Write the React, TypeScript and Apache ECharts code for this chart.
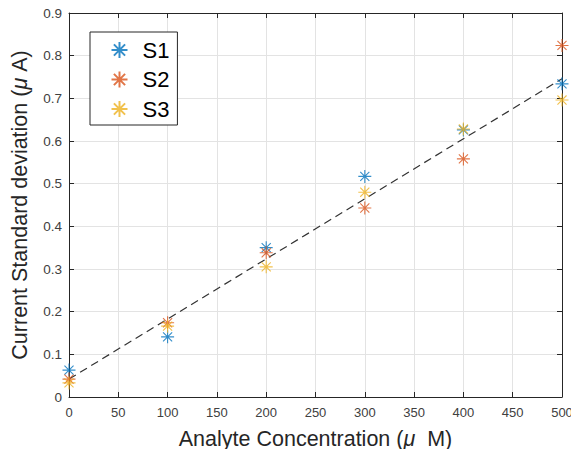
import React, { useEffect, useRef } from "react";
import * as echarts from "echarts";

const concentrations = [0, 100, 200, 300, 400, 500];
const s1 = [0.063, 0.141, 0.350, 0.517, 0.626, 0.734];
const s2 = [0.042, 0.174, 0.338, 0.443, 0.558, 0.824];
const s3 = [0.033, 0.166, 0.305, 0.480, 0.628, 0.696];
const fitX = [0, 500];
const fitY = [0.042, 0.746];
const seriesNames = ["S1", "S2", "S3"];
const colors = ["#0072BD", "#D95319", "#EDB120"];

const STAR = "path://M0,-1L0,1M-1,0L1,0M-0.7,-0.7L0.7,0.7M-0.7,0.7L0.7,-0.7";
const FONT = "'Liberation Sans', Arial, Helvetica, sans-serif";

export default function App() {
  const ref = useRef<HTMLDivElement>(null);
  useEffect(() => {
    if (!ref.current) return;
    const chart = echarts.init(ref.current, null, { renderer: "svg" });
    const all = [s1, s2, s3];
    const scatter = all.map((vals, i) => ({
      name: seriesNames[i],
      type: "scatter",
      symbol: STAR,
      symbolSize: 13,
      data: concentrations.map((c, j) => [c, vals[j]]),
      itemStyle: { color: "none", borderColor: colors[i], borderWidth: 1.1 },
      z: 3,
    }));
    const nameStyle = {
      fontSize: 21.5,
      lineHeight: 24,
      color: "#262626",
      fontFamily: FONT,
      rich: { mu: { fontSize: 21.5, lineHeight: 24, fontStyle: "italic", color: "#262626", fontFamily: FONT } },
    };
    chart.setOption({
      animation: false,
      textStyle: { fontFamily: FONT },
      grid: { left: 69, right: 17, top: 13, bottom: 60, show: false },
      legend: {
        orient: "vertical",
        left: 90,
        top: 32,
        data: seriesNames.map((n) => ({ name: n, icon: STAR })),
        borderColor: "#262626",
        borderWidth: 1,
        padding: [7, 8, 5, 19],
        itemGap: 7.5,
        itemWidth: 16,
        itemHeight: 16,
        backgroundColor: "#fff",
        textStyle: { fontSize: 22, color: "#000", fontFamily: FONT, padding: [0, 0, 0, 10] },
      },
      xAxis: [
        {
          type: "value",
          min: 0,
          max: 500,
          interval: 50,
          name: "Analyte Concentration ({mu|μ}\u00A0\u00A0M)",
          nameLocation: "middle",
          nameGap: 30,
          nameTextStyle: nameStyle,
          axisLine: { show: true, lineStyle: { color: "#262626", width: 1 } },
          axisTick: { show: true, inside: true, length: 5, lineStyle: { color: "#262626" } },
          axisLabel: { fontSize: 13, color: "#404040", margin: 9, fontFamily: FONT },
          splitLine: { show: true, lineStyle: { color: "#e3e3e3", width: 1 } },
        },
        {
          type: "value",
          position: "top",
          min: 0,
          max: 500,
          interval: 50,
          axisLine: { show: true, onZero: false, lineStyle: { color: "#262626", width: 1 } },
          axisTick: { show: true, inside: true, length: 5, lineStyle: { color: "#262626" } },
          axisLabel: { show: false },
          splitLine: { show: false },
        },
      ],
      yAxis: [
        {
          type: "value",
          min: 0,
          max: 0.9,
          interval: 0.1,
          name: "Current Standard deviation ({mu|μ}\u00A0A)",
          nameLocation: "middle",
          nameGap: 27,
          nameTextStyle: nameStyle,
          axisLine: { show: true, lineStyle: { color: "#262626", width: 1 } },
          axisTick: { show: true, inside: true, length: 5, lineStyle: { color: "#262626" } },
          axisLabel: {
            fontSize: 13.5,
            color: "#404040",
            margin: 7,
            fontFamily: FONT,
            formatter: (v: number) => (v === 0 ? "0" : String(Math.round(v * 10) / 10)),
          },
          splitLine: { show: true, lineStyle: { color: "#e3e3e3", width: 1 } },
        },
        {
          type: "value",
          position: "right",
          min: 0,
          max: 0.9,
          interval: 0.1,
          axisLine: { show: true, onZero: false, lineStyle: { color: "#262626", width: 1 } },
          axisTick: { show: true, inside: true, length: 5, lineStyle: { color: "#262626" } },
          axisLabel: { show: false },
          splitLine: { show: false },
        },
      ],
      series: [
        ...scatter,
        {
          name: "fit",
          type: "line",
          data: fitX.map((x, i) => [x, fitY[i]]),
          symbol: "none",
          lineStyle: { color: "#333333", width: 1.2, type: [8, 5] },
          z: 2,
        },
      ],
    });
    return () => chart.dispose();
  }, []);
  return <div ref={ref} style={{ width: 579, height: 457, margin: -8 }} />;
}
